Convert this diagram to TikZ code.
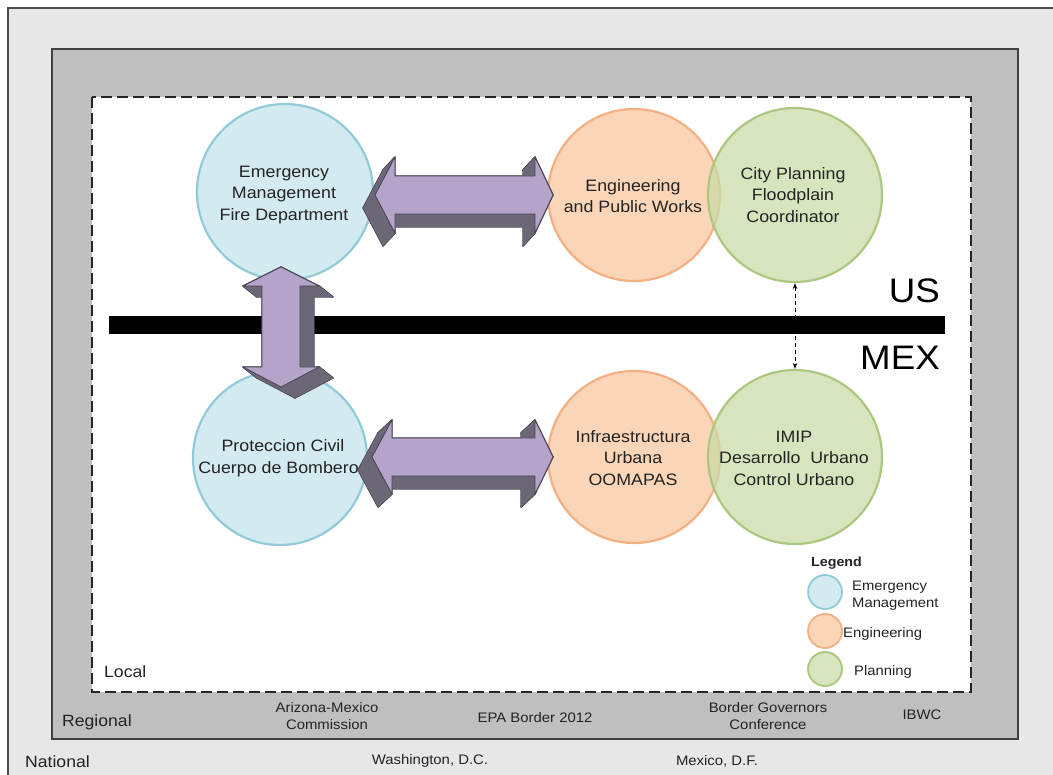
\documentclass[tikz,border=0pt]{standalone}
\usepackage{fontspec}
\setmainfont{Liberation Sans}[FakeStretch=1.08]
\usetikzlibrary{arrows.meta,calc}
\definecolor{bgouter}{RGB}{231,231,231}
\definecolor{bgregion}{RGB}{191,191,191}
\definecolor{emfill}{RGB}{195,227,235}
\definecolor{emline}{RGB}{146,202,217}
\definecolor{enfill}{RGB}{250,200,160}
\definecolor{enline}{RGB}{243,176,130}
\definecolor{plfill}{RGB}{202,219,168}
\definecolor{plline}{RGB}{172,199,128}
\definecolor{arrfront}{RGB}{180,164,202}
\definecolor{arrside}{RGB}{108,103,118}
\definecolor{arrline}{RGB}{70,66,80}
\definecolor{txt}{RGB}{35,35,35}
\newcommand\threedarrow[5]{%
  \foreach \x/\y [remember=\x as \px (initially #3), remember=\y as \py (initially #4)] in {#5}
    {\draw[arrline, line width=1.4, line join=round] (\px,\py) -- (\x,\y) -- ([shift={(#1,#2)}]\x,\y) -- ([shift={(#1,#2)}]\px,\py) -- cycle;}
  \foreach \x/\y [remember=\x as \px (initially #3), remember=\y as \py (initially #4)] in {#5}
    {\fill[arrside] (\px,\py) -- (\x,\y) -- ([shift={(#1,#2)}]\x,\y) -- ([shift={(#1,#2)}]\px,\py) -- cycle;}
  \filldraw[fill=arrfront, draw=arrline, line width=0.8, line join=round] (#3,#4) \foreach \x/\y in {#5}{ -- (\x,\y)} -- cycle;
}
\tikzset{
  circ/.style={circle, minimum size=#1, inner sep=0pt, line width=2.2pt, fill opacity=0.75},
  emc/.style={circ=#1, fill=emfill, draw=emline},
  enc/.style={circ=#1, fill=enfill, draw=enline},
  plc/.style={circ=#1, fill=plfill, draw=plline},
  ctext/.style={align=center, text=txt, inner sep=0pt, font=\fontsize{16.5}{21.5}\selectfont},
  ltext/.style={anchor=west, align=left, text=txt, inner sep=0pt, font=\fontsize{13.7}{17}\selectfont},
  orgtext/.style={align=center, text=txt, inner sep=0pt, font=\fontsize{13.8}{17.5}\selectfont},
  leveltext/.style={anchor=west, text=txt, inner sep=0pt, font=\fontsize{16.3}{19}\selectfont},
  country/.style={anchor=base east, text=black, inner sep=0pt, font=\fontsize{34}{40}\selectfont},
}
\begin{document}
\begin{tikzpicture}[x=1pt,y=-1pt]
\useasboundingbox (0,0) rectangle (1053,775);
\fill[white] (0,0) rectangle (1053,775);
% levels
\fill[bgouter] (8,8) rectangle (1053,775);
\draw[black!70, line width=1.2] (1053,8) -- (8,8) -- (8,775);
\filldraw[fill=bgregion, draw=black!75, line width=1.4] (52,49) rectangle (1018,739);
\filldraw[fill=white, draw=black!85, line width=2, dash pattern=on 11pt off 5pt] (92,97) rectangle (971,692);
% border bar
\node[fill=black, minimum width=836pt, minimum height=18pt, inner sep=0pt] (bar) at (527,325) {};
\node[country] (us) at (940,303) {US};
\node[country] (mex) at (940,370) {MEX};
% circles
\node[emc=176pt] (em1) at (285,192) {};
\node[emc=174pt] (em2) at (280,458) {};
\node[enc=172pt] (en1) at (634,195) {};
\node[enc=172pt] (en2) at (634,457) {};
\node[plc=174pt] (pl1) at (795,195) {};
\node[plc=174pt] (pl2) at (795,457) {};
% circle texts
\node[ctext] (tem1) at (284,195) {Emergency\\Management\\Fire Department};
\node[ctext] (ten1) at (633,196) {Engineering\\and Public Works};
\node[ctext] (tpl1) at (793,195) {City Planning\\Floodplain\\Coordinator};
\node[ctext] (tem2) at (283,458) {Proteccion Civil\\Cuerpo de Bomberos};
\node[ctext] (ten2) at (633,458) {Infraestructura\\Urbana\\OOMAPAS};
\node[ctext] (tpl2) at (794,458) {IMIP\\Desarrollo\ \ Urbano\\Control Urbano};
% block arrows
\threedarrow{-12}{13}{395}{233}{375/195,395/157,395/176,535/176,535/157,553/195,535/233,535/214,395/214,395/233}
\threedarrow{-14}{13}{392}{494}{372/457,392/420,392/438,535/438,535/420,553/457,535/494,535/476,392/476,392/494}
\threedarrow{14}{11}{243}{286}{281/267,319/286,300/286,300/367,319/367,281/387,243/367,262/367,262/286,243/286}
% dashed link
\draw[black, line width=0.9, dash pattern=on 4pt off 3pt, {Stealth[length=6pt,width=4.5pt]}-{Stealth[length=6pt,width=4.5pt]}] (pl1.south) -- (pl2.north);
% legend
\node[anchor=west, text=txt, inner sep=0pt, font=\bfseries\fontsize{13.2}{16}\selectfont] (lgt) at (811,563) {Legend};
\node[circ=34pt, line width=1.8pt, fill=emfill, draw=emline] (lg1) at (825,592) {};
\node[circ=34pt, line width=1.8pt, fill=enfill, draw=enline] (lg2) at (825,631) {};
\node[circ=34pt, line width=1.8pt, fill=plfill, draw=plline] (lg3) at (825,669) {};
\node[ltext] (lt1) at (852,596) {Emergency\\Management};
\node[ltext] (lt2) at (843,634) {Engineering};
\node[ltext] (lt3) at (854,672) {Planning};
% level labels
\node[leveltext] (local) at (104,672) {Local};
\node[leveltext] (regional) at (62,722) {Regional};
\node[leveltext] (national) at (25,762) {National};
\node[orgtext] (azm) at (327,716) {Arizona-Mexico\\Commission};
\node[orgtext] (epa) at (535,718) {EPA Border 2012};
\node[orgtext] (bgc) at (768,716) {Border Governors\\Conference};
\node[orgtext] (ibwc) at (922,715) {IBWC};
\node[orgtext] (wdc) at (430,761) {Washington, D.C.};
\node[orgtext] (mdf) at (717,761) {Mexico, D.F.};
\end{tikzpicture}
\end{document}
